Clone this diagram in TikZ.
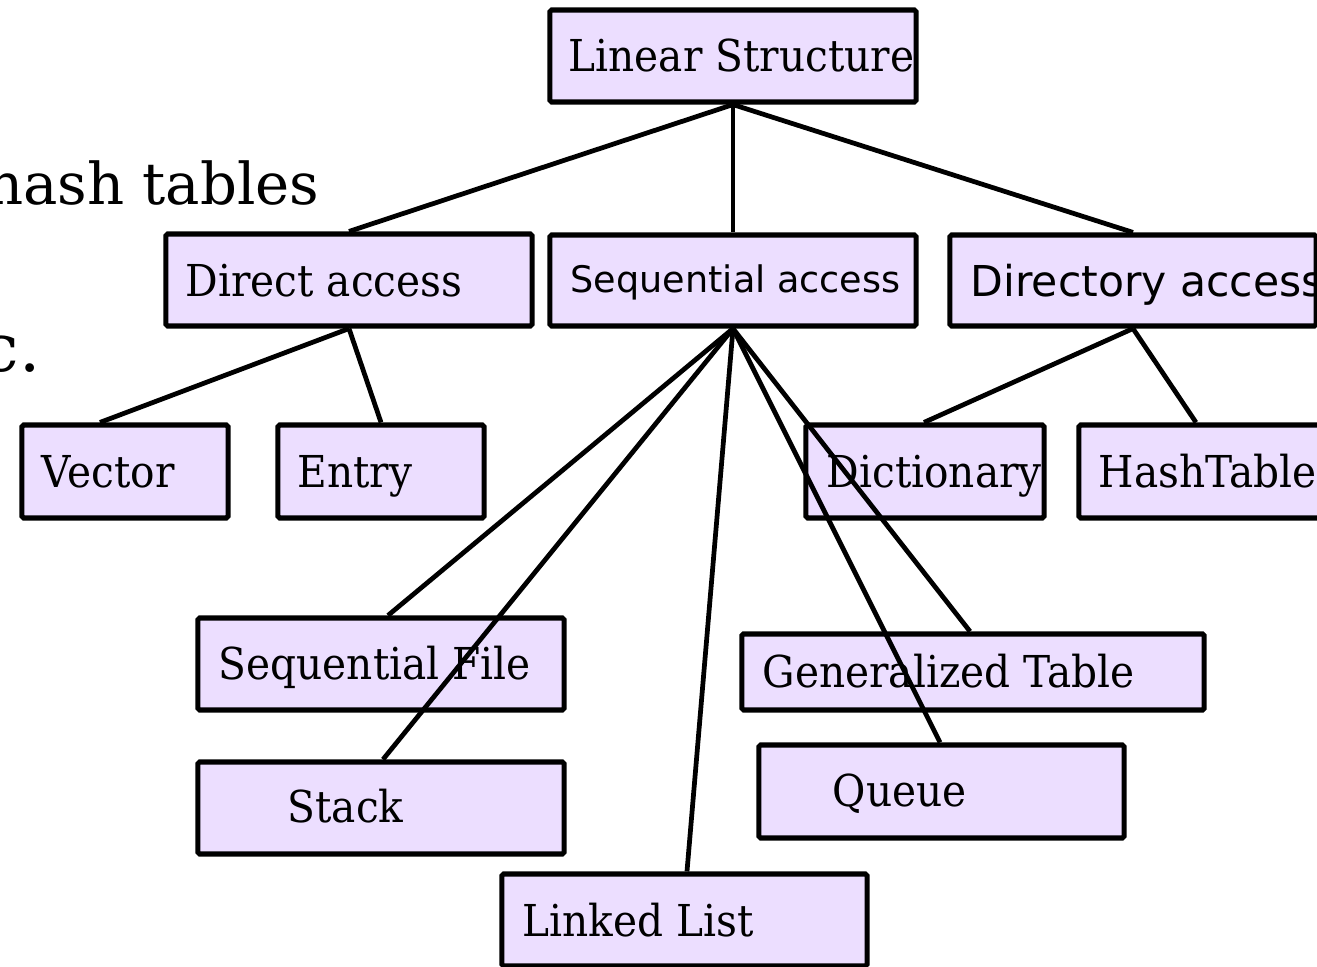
\documentclass[tikz,border=0pt]{standalone}
\usepackage{fontspec}
\setmainfont{DejaVu Serif}[FakeStretch=0.925]
\newfontfamily\bgfont{DejaVu Serif}
\newfontfamily\sansf{DejaVu Sans}
\definecolor{boxfill}{RGB}{236,222,255}
\tikzset{
  box/.style={draw=black, fill=boxfill, line width=1.45pt, rounded corners=0.5pt, inner sep=0pt},
  lbl/.style={anchor=base west, inner sep=0pt, font=\fontsize{12.5}{14}\selectfont},
  slbl/.style={anchor=base west, inner sep=0pt, font=\sansf\fontsize{10.4}{12}\selectfont},
  conn/.style={draw=black, line width=1.35pt},
}
\begin{document}
\begin{tikzpicture}[x=0.01cm,y=-0.01cm]
\useasboundingbox (0,0) rectangle (1317,967);
\clip (0,0) rectangle (1317,967);
% background text
\node[anchor=base east, inner sep=0pt, font=\bgfont\fontsize{16.4}{18}\selectfont] (bg1) at (320,205) {hash tables};
\node[anchor=base east, inner sep=0pt, font=\bgfont\fontsize{19}{21}\selectfont] (bg2) at (41,372) {etc.};
% boxes
\node[box, minimum width=36.6mm, minimum height=9.2mm] (ls) at (733,56) {};
\node[box, minimum width=36.6mm, minimum height=9.2mm] (da) at (349,280) {};
\node[box, minimum width=36.6mm, minimum height=9.1mm] (sa) at (733,280.5) {};
\node[box, minimum width=36.6mm, minimum height=9.1mm] (dira) at (1133,280.5) {};
\node[box, minimum width=20.6mm, minimum height=9.3mm] (vec) at (125,471.5) {};
\node[box, minimum width=20.6mm, minimum height=9.3mm] (ent) at (381,471.5) {};
\node[box, minimum width=23.8mm, minimum height=9.3mm] (dict) at (925,471.5) {};
\node[box, minimum width=26mm, minimum height=9.3mm] (ht) at (1209,471.5) {};
\node[box, minimum width=36.6mm, minimum height=9.2mm] (sf) at (381,664) {};
\node[box, minimum width=36.6mm, minimum height=9.2mm] (stk) at (381,808) {};
\node[box, minimum width=36.5mm, minimum height=9.2mm] (ll) at (684.5,920) {};
\node[box, minimum width=46.2mm, minimum height=7.6mm] (gt) at (973,672) {};
\node[box, minimum width=36.5mm, minimum height=9.3mm] (q) at (941.5,791.5) {};
% labels
\node[lbl] (tls) at (568,72) {Linear Structure};
\node[lbl] (tda) at (185,297) {Direct access};
\node[slbl] (tsa) at (570,293) {Sequential access};
\node[slbl, font=\sansf\fontsize{12.1}{13}\selectfont] (tdira) at (970,297) {Directory access};
\node[lbl] (tvec) at (41,488) {Vector};
\node[lbl] (tent) at (297,488) {Entry};
\node[lbl] (tdict) at (826,488) {Dictionary};
\node[lbl] (tht) at (1098,488) {HashTable};
\node[lbl] (tsf) at (218,680) {Sequential File};
\node[lbl] (tstk) at (287,823) {Stack};
\node[lbl] (tll) at (522,937) {Linked List};
\node[lbl] (tgt) at (762,688) {Generalized Table};
\node[lbl] (tq) at (832,807) {Queue};
% connectors
\draw[conn] (ls.south) -- (da.north);
\draw[conn] (ls.south) -- (sa.north);
\draw[conn] (ls.south) -- (dira.north);
\draw[conn] (da.south) -- ([xshift=-0.25cm]vec.north);
\draw[conn] (da.south) -- (ent.north);
\draw[conn] (sa.south) -- ([xshift=0.07cm]sf.north);
\draw[conn] (sa.south) -- ([xshift=0.02cm]stk.north);
\draw[conn] (sa.south) -- ([xshift=0.025cm]ll.north);
\draw[conn] (sa.south) -- ([xshift=-0.015cm]q.north);
\draw[conn] (sa.south) -- ([xshift=-0.03cm]gt.north);
\draw[conn] (dira.south) -- ([xshift=-0.01cm]dict.north);
\draw[conn] (dira.south) -- ([xshift=-0.13cm]ht.north);
\end{tikzpicture}
\end{document}
